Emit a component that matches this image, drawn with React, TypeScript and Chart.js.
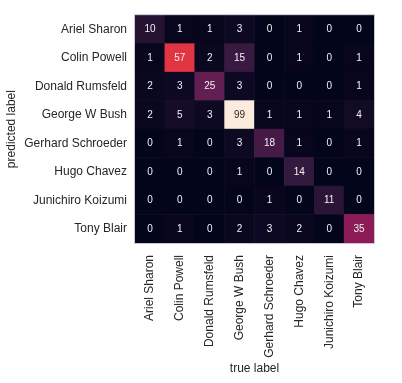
import React, { useEffect, useRef } from "react";
import { Chart, registerables } from "chart.js";

Chart.register(...registerables);

const names: string[] = [
  "Ariel Sharon",
  "Colin Powell",
  "Donald Rumsfeld",
  "George W Bush",
  "Gerhard Schroeder",
  "Hugo Chavez",
  "Junichiro Koizumi",
  "Tony Blair",
];

// rows = predicted label, columns = true label
const rowArielSharon = [10, 1, 1, 3, 0, 1, 0, 0];
const rowColinPowell = [1, 57, 2, 15, 0, 1, 0, 1];
const rowDonaldRumsfeld = [2, 3, 25, 3, 0, 0, 0, 1];
const rowGeorgeWBush = [2, 5, 3, 99, 1, 1, 1, 4];
const rowGerhardSchroeder = [0, 1, 0, 3, 18, 1, 0, 1];
const rowHugoChavez = [0, 0, 0, 1, 0, 14, 0, 0];
const rowJunichiroKoizumi = [0, 0, 0, 0, 1, 0, 11, 0];
const rowTonyBlair = [0, 1, 0, 2, 3, 2, 0, 35];

const rows = [
  rowArielSharon,
  rowColinPowell,
  rowDonaldRumsfeld,
  rowGeorgeWBush,
  rowGerhardSchroeder,
  rowHugoChavez,
  rowJunichiroKoizumi,
  rowTonyBlair,
];

// seaborn "rocket" colormap stops
const rocket: [number, number, number][] = [
  [0x03, 0x05, 0x1a],
  [0x35, 0x19, 0x3e],
  [0x70, 0x1f, 0x57],
  [0xad, 0x17, 0x59],
  [0xe1, 0x33, 0x42],
  [0xf3, 0x76, 0x51],
  [0xf6, 0xb4, 0x8f],
  [0xfa, 0xeb, 0xdd],
];

function rocketColor(t: number): string {
  const c = Math.max(0, Math.min(1, t)) * (rocket.length - 1);
  const i = Math.min(rocket.length - 2, Math.floor(c));
  const f = c - i;
  const a = rocket[i];
  const b = rocket[i + 1];
  const r = Math.round(a[0] + (b[0] - a[0]) * f);
  const g = Math.round(a[1] + (b[1] - a[1]) * f);
  const bl = Math.round(a[2] + (b[2] - a[2]) * f);
  return `rgb(${r},${g},${bl})`;
}

const FONT = "'Liberation Sans', Arial, sans-serif";

export default function App() {
  const ref = useRef<HTMLCanvasElement>(null);

  useEffect(() => {
    document.body.style.margin = "0";
    const maxV = Math.max(...rows.flat());
    const points: { x: string; y: string; v: number }[] = [];
    rows.forEach((row, r) =>
      row.forEach((v, c) => points.push({ x: names[c], y: names[r], v }))
    );

    const heatPlugin = {
      id: "heat",
      beforeDatasetsDraw(chart: any) {
        const ctx = chart.ctx;
        const xs = chart.scales.x;
        const ys = chart.scales.y;
        const cw = xs.width / names.length;
        const ch = ys.height / names.length;
        const meta = chart.getDatasetMeta(0);
        ctx.save();
        meta.data.forEach((el: any, i: number) => {
          const p = points[i];
          ctx.fillStyle = rocketColor(p.v / maxV);
          ctx.fillRect(el.x - cw / 2 - 0.3, el.y - ch / 2 - 0.3, cw + 0.6, ch + 0.6);
        });
        meta.data.forEach((el: any, i: number) => {
          const p = points[i];
          const t = p.v / maxV;
          ctx.fillStyle = t > 0.6 ? "#262626" : "#f2f2f2";
          ctx.font = `10px ${FONT}`;
          ctx.textAlign = "center";
          ctx.textBaseline = "middle";
          ctx.fillText(String(p.v), el.x, el.y);
        });
        const a = chart.chartArea;
        ctx.strokeStyle = "rgba(200,200,215,0.9)";
        ctx.lineWidth = 1;
        ctx.strokeRect(a.left - 0.5, a.top - 0.5, a.right - a.left + 1, a.bottom - a.top + 1);
        ctx.restore();
      },
    };

    const chart = new Chart(ref.current!, {
      type: "scatter",
      data: {
        datasets: [
          {
            data: points as any,
            pointRadius: 0,
            pointHoverRadius: 0,
          },
        ],
      },
      options: {
        animation: false,
        responsive: false,
        events: [],
        layout: { padding: { top: 4, right: 28, left: 0, bottom: 0 } },
        plugins: { legend: { display: false }, tooltip: { enabled: false } },
        scales: {
          x: {
            type: "category",
            labels: names,
            offset: true,
            grid: { display: false, drawTicks: false },
            border: { display: false },
            ticks: {
              minRotation: 90,
              maxRotation: 90,
              autoSkip: false,
              padding: 12,
              color: "#262626",
              font: { size: 12, family: FONT },
            },
            title: {
              display: true,
              text: "true label",
              color: "#262626",
              font: { size: 12, family: FONT },
              padding: { top: 0, bottom: 7 },
            },
            afterFit(scale: any) {
              scale.height = 140;
            },
          },
          y: {
            type: "category",
            labels: names,
            offset: true,
            grid: { display: false, drawTicks: false },
            border: { display: false },
            ticks: {
              autoSkip: false,
              padding: 8,
              color: "#262626",
              font: { size: 12, family: FONT },
            },
            title: {
              display: true,
              text: "predicted label",
              color: "#262626",
              font: { size: 12, family: FONT },
              padding: { top: 4, bottom: 0 },
            },
            afterFit(scale: any) {
              scale.width = 135;
            },
          },
        },
      },
      plugins: [heatPlugin],
    });
    return () => chart.destroy();
  }, []);

  return <canvas ref={ref} width={402} height={383} style={{ display: "block" }} />;
}
